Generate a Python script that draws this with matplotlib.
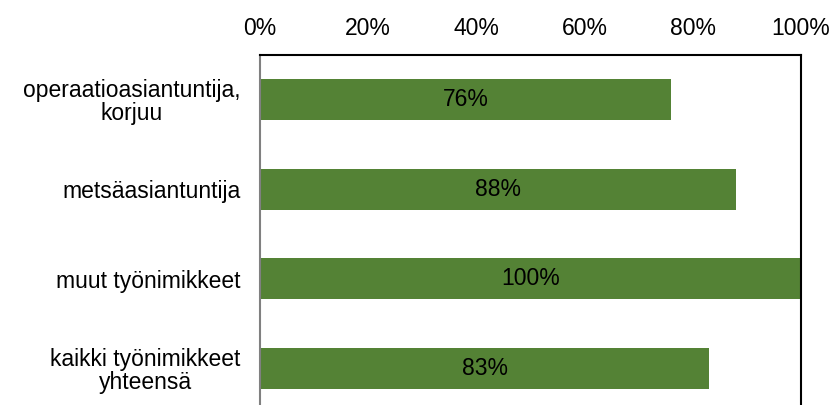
import numpy as np
import matplotlib.pyplot as plt
from matplotlib.ticker import PercentFormatter

plt.rcParams['font.family'] = ['Liberation Sans', 'DejaVu Sans']

categories = ['operaatioasiantuntija,\nkorjuu', 'metsäasiantuntija',
              'muut työnimikkeet', 'kaikki työnimikkeet\nyhteensä']
values = [76, 88, 100, 83]
green = '#548235'
fs = 16.5

fig = plt.figure(figsize=(8.33, 4.05), dpi=100)
ax = fig.add_axes([260 / 833, 1 - 413 / 405, 541 / 833, 358 / 405])

y = np.arange(len(categories))
bars = ax.barh(y, values, height=0.46, color=green)
for b, v in zip(bars, values):
    ax.text(v / 2, b.get_y() + b.get_height() / 2, f'{v}%',
            ha='center', va='center', fontsize=fs, color='black')

ax.set_xlim(0, 100)
ax.set_ylim(len(categories) - 0.5, -0.5)
ax.set_yticks(y)
ax.set_yticklabels(categories, fontsize=fs, multialignment='center',
                   linespacing=1.0)
ax.set_xticks(np.arange(0, 101, 20))
ax.xaxis.set_major_formatter(PercentFormatter(decimals=0))
ax.xaxis.tick_top()
ax.tick_params(axis='x', length=0, pad=11, labelsize=fs)
ax.tick_params(axis='y', length=0, pad=14)

for side in ['top', 'right', 'bottom']:
    ax.spines[side].set_color('black')
    ax.spines[side].set_linewidth(1.5)
ax.spines['left'].set_color('#808080')
ax.spines['left'].set_linewidth(1.5)

fig.savefig('out.png', dpi=100)
